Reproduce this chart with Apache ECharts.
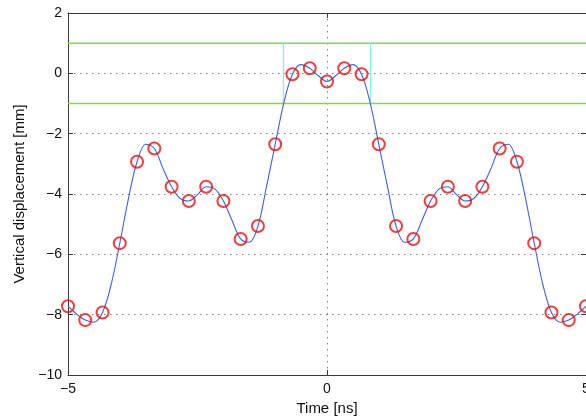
<!DOCTYPE html>
<html>
<head>
<meta charset="utf-8">
<script src="https://cdn.jsdelivr.net/npm/echarts@6/dist/echarts.min.js"></script>
<style>
html,body{margin:0;padding:0;background:#fff;}
#chart{width:586px;height:418px;}
</style>
</head>
<body>
<div id="chart"></div>
<script>
// Sampled points (red circles)
const sampleTimes = [-5, -4.667, -4.333, -4, -3.667, -3.333, -3, -2.667, -2.333, -2, -1.667, -1.333, -1, -0.667, -0.333, 0,
  0.333, 0.667, 1, 1.333, 1.667, 2, 2.333, 2.667, 3, 3.333, 3.667, 4, 4.333, 4.667, 5];
const sampleValues = [-7.72, -8.18, -7.93, -5.63, -2.93, -2.49, -3.76, -4.23, -3.76, -4.23, -5.49, -5.06, -2.35, -0.03, 0.17, -0.27,
  0.17, -0.03, -2.35, -5.06, -5.49, -4.23, -3.76, -4.23, -3.76, -2.49, -2.93, -5.63, -7.93, -8.18, -7.72];

// Reconstructed (interpolated) signal, blue line
const curveTimes = [-5, -4.833, -4.667, -4.5, -4.333, -4.167, -4, -3.833, -3.667, -3.5, -3.333, -3.167, -3, -2.833, -2.667, -2.5,
  -2.333, -2.167, -2, -1.833, -1.667, -1.5, -1.333, -1.167, -1, -0.833, -0.667, -0.5, -0.333, -0.167, 0,
  0.167, 0.333, 0.5, 0.667, 0.833, 1, 1.167, 1.333, 1.5, 1.667, 1.833, 2, 2.167, 2.333, 2.5, 2.667, 2.833,
  3, 3.167, 3.333, 3.5, 3.667, 3.833, 4, 4.167, 4.333, 4.5, 4.667, 4.833, 5];
const curveValues = [-7.72, -7.98, -8.18, -8.25, -7.93, -7.0, -5.63, -4.15, -2.93, -2.35, -2.49, -3.15, -3.76, -4.15, -4.23, -4.02,
  -3.76, -3.83, -4.23, -4.88, -5.49, -5.6, -5.06, -3.75, -2.35, -0.98, -0.03, 0.29, 0.17, -0.08, -0.27,
  -0.08, 0.17, 0.29, -0.03, -0.98, -2.35, -3.75, -5.06, -5.6, -5.49, -4.88, -4.23, -3.83, -3.76, -4.02, -4.23, -4.15,
  -3.76, -3.15, -2.49, -2.35, -2.93, -4.15, -5.63, -7.0, -7.93, -8.25, -8.18, -7.98, -7.72];

// Tolerance band and crossing markers
const bandLevels = [1, -1];
const crossTimes = [-0.84, 0.84];

// Axes
const xTicks = [-5, 0, 5];
const yTicks = [-10, -8, -6, -4, -2, 0, 2];

const FONT = '"Liberation Sans", Arial, Helvetica, sans-serif';
const fmt = v => String(v).replace('-', '\u2212');

const chart = echarts.init(document.getElementById('chart'), null, {renderer: 'canvas'});

const series = [];
bandLevels.forEach(l => {
  series.push({
    type: 'line', xAxisIndex: 0, yAxisIndex: 0, symbol: 'none', silent: true,
    data: [[xTicks[0], l], [xTicks[xTicks.length - 1], l]],
    lineStyle: {color: '#72e234', width: 1.5}, z: 3
  });
});
crossTimes.forEach(t => {
  series.push({
    type: 'line', xAxisIndex: 0, yAxisIndex: 0, symbol: 'none', silent: true,
    data: [[t, bandLevels[1]], [t, bandLevels[0]]],
    lineStyle: {color: '#88efe2', width: 1.3}, z: 3
  });
});
series.push({
  type: 'line', xAxisIndex: 0, yAxisIndex: 0, symbol: 'none', smooth: 0.35,
  data: curveTimes.map((t, i) => [t, curveValues[i]]),
  lineStyle: {color: '#3e62dc', width: 1.1}, z: 4
});
series.push({
  type: 'scatter', xAxisIndex: 0, yAxisIndex: 0, symbol: 'circle', symbolSize: 12, clip: false,
  data: sampleTimes.map((t, i) => [t, sampleValues[i]]),
  itemStyle: {color: 'rgba(0,0,0,0)', borderColor: '#e81010', borderWidth: 2}, z: 5
});

const axisLine = {show: true, onZero: false, lineStyle: {color: '#3a3a3a', width: 1}};
const tick = {show: true, inside: true, length: 5, lineStyle: {color: '#3a3a3a', width: 1}};
const split = {show: true, lineStyle: {color: '#808080', width: 1, type: [1.5, 4.5]}};

chart.setOption({
  animation: false,
  backgroundColor: '#ffffff',
  grid: {left: 68, right: 0, top: 13, bottom: 43, containLabel: false, outerBoundsMode: 'none'},
  xAxis: [
    {type: 'value', position: 'bottom', min: -5, max: 5, interval: 5,
     axisLine, axisTick: tick, splitLine: split,
     axisLabel: {color: '#111', fontSize: 14, fontFamily: FONT, margin: 7, formatter: fmt},
     name: 'Time [ns]', nameLocation: 'middle', nameGap: 25,
     nameTextStyle: {color: '#111', fontSize: 15, fontFamily: FONT}},
    {type: 'value', position: 'top', min: -5, max: 5, interval: 5,
     axisLine, axisTick: tick, splitLine: {show: false}, axisLabel: {show: false}}
  ],
  yAxis: [
    {type: 'value', position: 'left', min: -10, max: 2, interval: 2,
     axisLine, axisTick: tick, splitLine: split,
     axisLabel: {color: '#111', fontSize: 14, fontFamily: FONT, margin: 6, formatter: fmt},
     name: 'Vertical displacement [mm]', nameLocation: 'middle', nameGap: 40,
     nameTextStyle: {color: '#111', fontSize: 15, fontFamily: FONT}},
    {type: 'value', position: 'right', min: -10, max: 2, interval: 2,
     axisLine, axisTick: tick, splitLine: {show: false}, axisLabel: {show: false}}
  ],
  series
});
</script>
</body>
</html>
